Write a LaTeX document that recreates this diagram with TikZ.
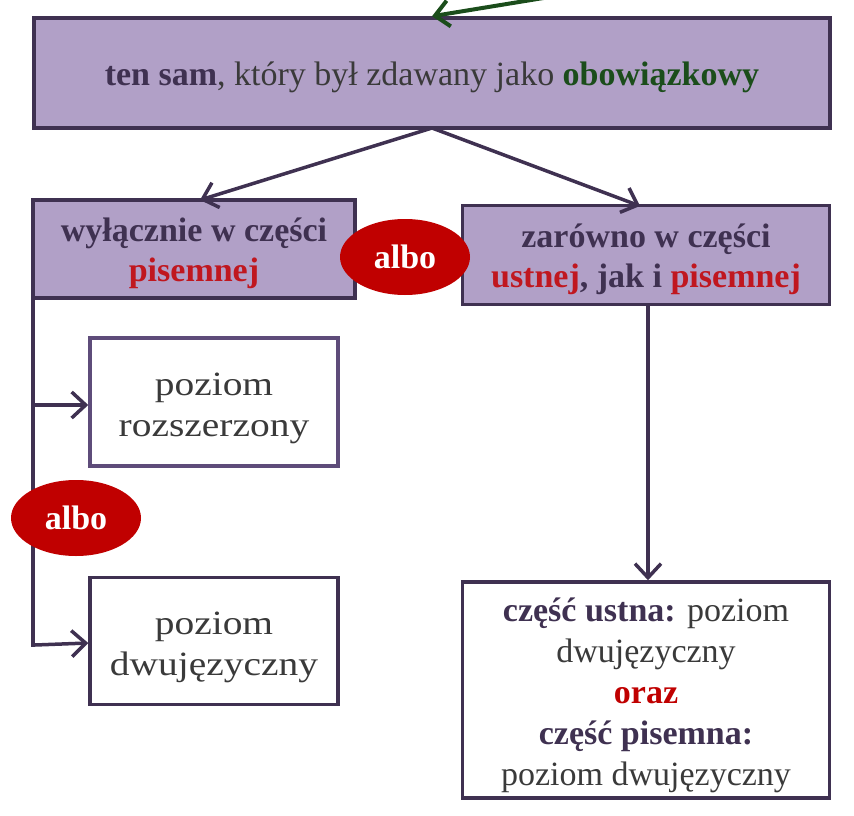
\documentclass[tikz,border=0pt]{standalone}
\usepackage{fontspec}
\setmainfont{Liberation Serif}
\newfontfamily\widefont[FakeStretch=1.16]{Liberation Serif}
\usetikzlibrary{arrows.meta,shapes.geometric}
\definecolor{lav}{HTML}{B1A0C7}
\definecolor{dpur}{HTML}{3F3151}
\definecolor{mpur}{HTML}{5E4C7A}
\definecolor{dgreen}{HTML}{1B4D1B}
\definecolor{tred}{HTML}{C0171F}
\definecolor{ered}{HTML}{C00000}
\definecolor{tgray}{HTML}{3A3A3A}
\tikzset{
  lbox/.style={draw=dpur,fill=lav,line width=3.5pt,inner sep=0pt},
  wbox/.style={draw=mpur,fill=white,line width=3.5pt,inner sep=0pt},
  ltext/.style={inner sep=0pt,align=center,text=dpur,font=\fontsize{34}{40}\selectfont\bfseries},
  wtext/.style={inner sep=0pt,align=center,text=tgray,font=\fontsize{34}{41}\selectfont},
  albo/.style={ellipse,fill=ered,text=white,inner sep=0pt,minimum width=130pt,minimum height=76pt,font=\fontsize{34}{36}\selectfont\bfseries},
  conn/.style={draw=dpur,line width=3.5pt,-{Straight Barb[length=14pt,width=26pt,line width=3.5pt]}},
  line/.style={draw=dpur,line width=3.5pt}
}
\begin{document}
\begin{tikzpicture}[x=1pt,y=-1pt]
\useasboundingbox (0,0) rectangle (854,816);
\node[lbox,minimum width=796pt,minimum height=110pt] (top) at (432,73) {};
\node[ltext,yshift=-4pt] (ttop) at (top.center) {\textcolor{dpur}{ten sam}\textcolor{tgray}{\mdseries, który był zdawany jako }\textcolor{dgreen}{obowiązkowy}};
\coordinate (gstart) at (580,-8);
\draw[draw=dgreen,line width=4pt,-{Straight Barb[length=14pt,width=26pt,line width=4pt]}] (gstart) -- (top.north -| 432,0);
\node[lbox,minimum width=322pt,minimum height=98pt] (left) at (194,249) {};
\node[ltext,yshift=-4pt] (tleft) at (left.center) {wyłącznie w części\\\textcolor{tred}{pisemnej}};
\node[lbox,minimum width=367pt,minimum height=99pt] (right) at (646,255) {};
\node[ltext,yshift=-4pt] (tright) at (right.center) {zarówno w części\\\textcolor{tred}{ustnej}, jak i \textcolor{tred}{pisemnej}};
\node[albo] (albo1) at (405,257) {albo};
\node[wbox,minimum width=248pt,minimum height=128pt] (roz) at (214,402) {};
\node[wtext,font=\fontsize{34}{41}\selectfont\widefont,yshift=-6pt] (troz) at (roz.center) {poziom\\rozszerzony};
\node[wbox,draw=dpur,minimum width=248pt,minimum height=127pt] (dwu) at (214,641) {};
\node[wtext,font=\fontsize{34}{41}\selectfont\widefont,yshift=-6pt] (tdwu) at (dwu.center) {poziom\\dwujęzyczny};
\node[wbox,draw=dpur,minimum width=367pt,minimum height=216pt] (both) at (646,690) {};
\node[wtext,yshift=-5pt] (tboth) at (both.center) {\textbf{\textcolor{dpur}{część ustna:}} poziom\\dwujęzyczny\\\textbf{\textcolor{ered}{oraz}}\\\textbf{\textcolor{dpur}{część pisemna:}}\\poziom dwujęzyczny};
\coordinate (topb) at (432,128);
\draw[conn] (topb) -- (200,200);
\draw[conn] (topb) -- (640,206);
\coordinate (j1) at (35,405);
\coordinate (j2) at (35,645);
\draw[line] (left.south west) ++(1.75,0) |- (j2);
\draw[conn] (j1) -- (roz.west |- j1);
\draw[conn] (j2) -- (dwu.west |- 0,643);
\node[albo] (albo2) at (76,518) {albo};
\draw[conn] (right.south -| 648,0) -- (both.north -| 648,0);
\end{tikzpicture}
\end{document}
